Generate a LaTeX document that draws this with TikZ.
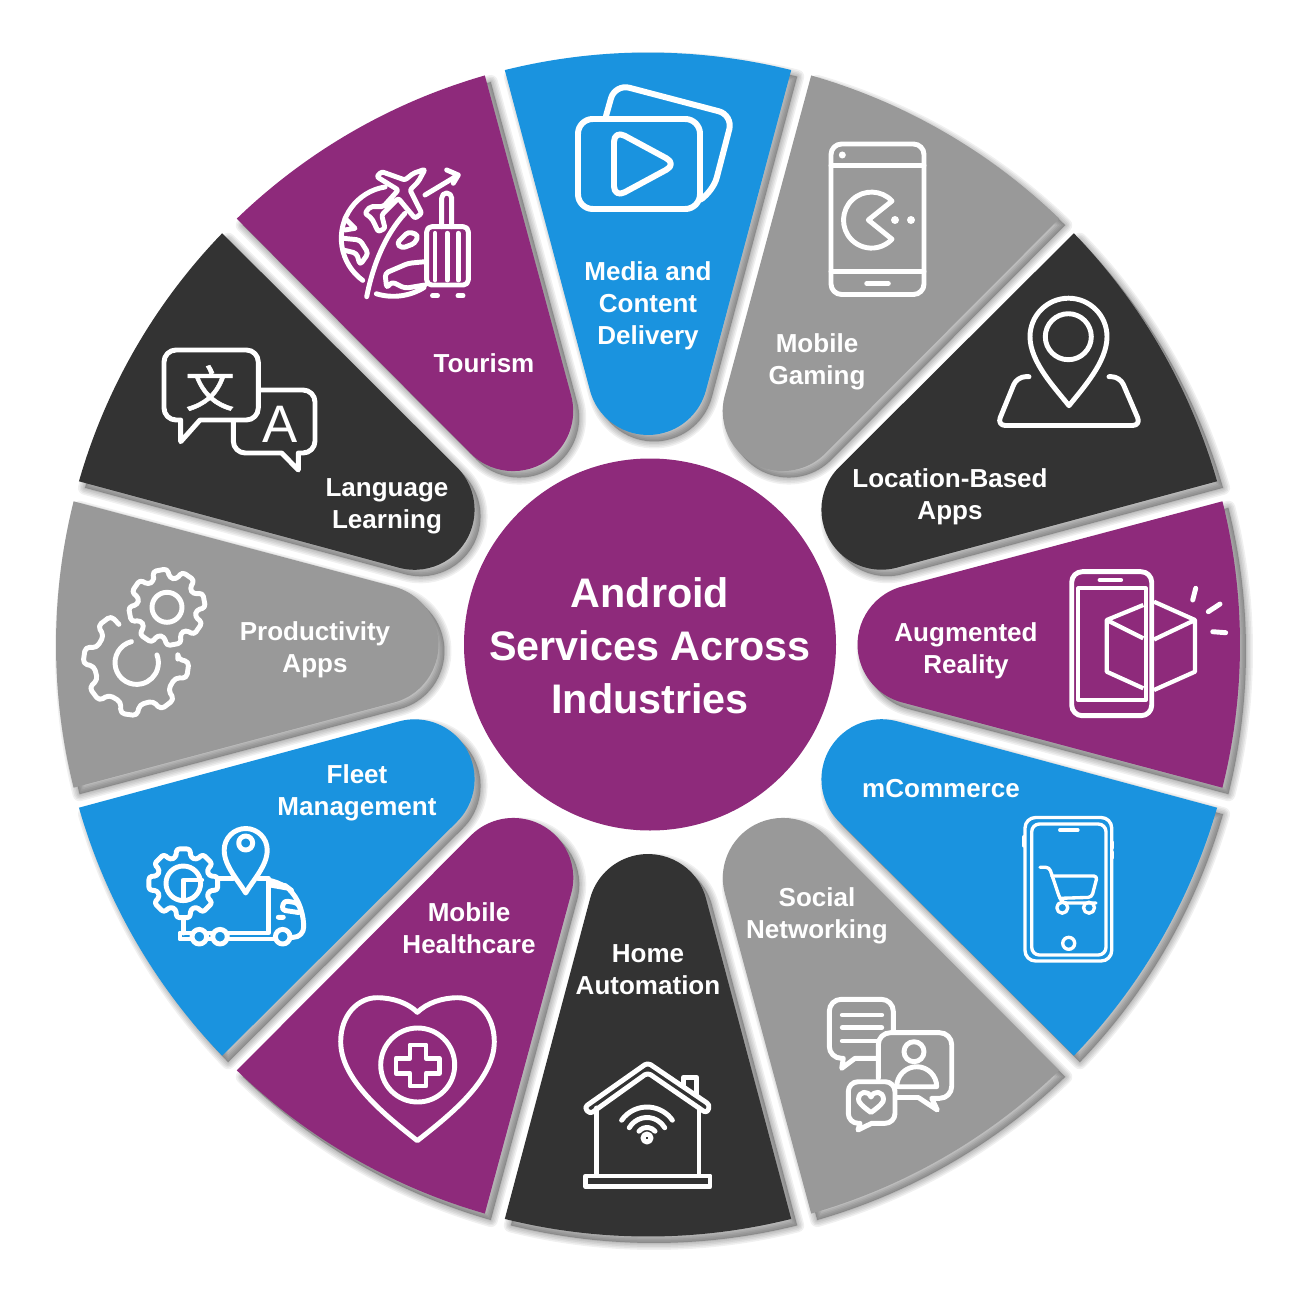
\documentclass[tikz,border=0pt]{standalone}
\usepackage{fontspec}
\setmainfont{Liberation Sans}
\newfontfamily\cjk[FakeBold=1.2]{Noto Sans CJK SC}
\definecolor{svcblue}{HTML}{1A93DF}
\definecolor{svcpurple}{HTML}{8E2A7B}
\definecolor{svcgray}{HTML}{999999}
\definecolor{svcdark}{HTML}{333333}
\newcommand{\wedgeshape}{(-143.2,-574.4) -- (-58,-254) arc[start angle=165,end angle=15,radius=60] -- (143.2,-574.4) arc[start angle=-76,end angle=-104,radius=592] -- cycle}
\tikzset{
  lbl/.style={text=white,align=center,inner sep=0pt,font=\fontsize{7.4}{9.1}\selectfont\bfseries},
  icon/.style={draw=white,line width=1.4pt,line join=round,line cap=round},
  thinicon/.style={icon,line width=0.95pt},
  dot/.style={fill=white}
}
\begin{document}
\begin{tikzpicture}[x=0.01cm,y=-0.01cm]
  \useasboundingbox (0,0) rectangle (1300,1300);

  \foreach \a in {0,30,...,330} {
    \foreach \w in {14,11,8,5,2} {
      \begin{scope}[shift={(654,651)},rotate=-\a]
        \draw[black,fill=black,opacity=0.06,line width=\w*0.2845pt,line join=round] \wedgeshape;
      \end{scope}
    }
  }
  \foreach \a/\c in {0/svcblue,30/svcgray,60/svcdark,90/svcpurple,120/svcblue,150/svcgray,180/svcdark,210/svcpurple,240/svcblue,270/svcgray,300/svcdark,330/svcpurple} {
    \begin{scope}[shift={(648,644.5)},rotate=-\a]
      \fill[\c] \wedgeshape;
    \end{scope}
  }
  \fill[svcpurple] (650,644.5) circle[radius=186];
  \node[lbl,font=\fontsize{11.75}{15.1}\selectfont\bfseries] (hub) at (650,646) {Android\\Services Across\\Industries};

  \node[lbl] (media) at (648,305.5) {Media and\\Content\\Delivery};
  \node[lbl] (gaming) at (817,362) {Mobile\\Gaming};
  \node[lbl] (location) at (950,497) {Location-Based\\Apps};
  \node[lbl] (augmented) at (966,650.5) {Augmented\\Reality};
  \node[lbl] (commerce) at (941,788.5) {mCommerce};
  \node[lbl] (social) at (817,916) {Social\\Networking};
  \node[lbl] (home) at (648,970) {Home\\Automation};
  \node[lbl] (health) at (469,928) {Mobile\\Healthcare};
  \node[lbl] (fleet) at (357,792.5) {Fleet\\Management};
  \node[lbl] (product) at (315,650) {Productivity\\Apps};
  \node[lbl] (language) at (387,506) {Language\\Learning};
  \node[lbl] (tourism) at (484,363) {Tourism};

  % media
  \draw[icon,line width=1.7pt,rounded corners=4.2pt] (578,119) rectangle (700,209);
  \draw[icon,line width=1.7pt,rounded corners=4.2pt] (606,116) -- (615,84) -- (733,115) -- (713,192) -- (703,198);
  \draw[icon,line width=1.7pt,rounded corners=3.4pt] (614,130) -- (614,198) -- (677,164) -- cycle;

  % gaming
  \draw[icon,rounded corners=3pt] (831,144) rectangle (924,294.5);
  \draw[icon] (831,165.7) -- (924,165.7) (831,271.5) -- (924,271.5) (866.7,283.5) -- (888.3,283.5);
  \fill[dot] (842.3,155) circle[radius=3.5] (895,220) circle[radius=4] (911,220) circle[radius=4];
  \draw[icon] (892,201) arc[start angle=-43,end angle=-317,radius=28] -- (868.3,220) -- cycle;

  % location
  \draw[icon] (1069,405.7) .. controls (1055,388) and (1030,362) .. (1030,336.7) arc[start angle=180,end angle=360,radius=38.5] .. controls (1107,362) and (1083,388) .. (1069,405.7) -- cycle;
  \draw[icon] (1068.3,336.7) circle[radius=23];
  \draw[icon,rounded corners=2.4pt] (1029,376.7) -- (1017,376.7) -- (997,425.5) -- (1141,425.5) -- (1120,376.7) -- (1109,376.7);

  % augmented
  \draw[icon,rounded corners=3pt] (1071.7,571.7) rectangle (1151.7,715.7);
  \draw[icon,line width=1.2pt] (1078.3,588.3) rectangle (1145.7,700);
  \draw[icon] (1100,580) -- (1120.7,580);
  \draw[icon,line width=1.2pt,line cap=butt] (1143.3,605) -- (1106.7,620) -- (1106.7,671.7) -- (1143.3,688.3) (1106.7,620) -- (1143.3,638.3);
  \draw[icon,line width=1.2pt,line cap=butt] (1154,601.7) -- (1195,620) -- (1195,671.7) -- (1154,690) (1195,620) -- (1154,639.5);
  \draw[icon] (1195.7,588.3) -- (1192.7,600) (1220,604) -- (1208.3,611.7) (1212.7,631.7) -- (1225.7,632.7);

  % commerce
  \draw[thinicon,rounded corners=3pt] (1025,817.5) rectangle (1111.7,961);
  \draw[thinicon,rounded corners=2.2pt] (1031.7,824) rectangle (1106,955);
  \draw[icon,line width=1.1pt] (1060,830) -- (1077.7,830);
  \draw[thinicon] (1024,836.7) -- (1024,846) (1112.7,842) -- (1112.7,848) (1112.7,852) -- (1112.7,858);
  \draw[thinicon] (1068.7,943.3) circle[radius=6];
  \draw[thinicon,rounded corners=1pt] (1040,867.3) -- (1049.3,867.3) -- (1060,899) -- (1063.3,903) -- (1096,903);
  \draw[thinicon,rounded corners=1pt] (1051.7,876) -- (1097.3,876) -- (1091.7,897.3) -- (1060,898.3);
  \draw[thinicon] (1062.3,907.7) circle[radius=5.5] (1089,907.7) circle[radius=5.5];

  % social
  \draw[icon,rounded corners=3.4pt] (893.3,1030) -- (893.3,999.3) -- (829.3,999.3) -- (829.3,1058.3) [sharp corners] -- (843.3,1058.3) -- (841.7,1068.3) -- (855,1058.3) -- (876.7,1058.3);
  \draw[icon] (842.3,1015) -- (881.7,1015) (842.3,1027.7) -- (881.7,1027.7) (842.3,1041) -- (876,1041);
  \draw[icon,rounded corners=3.4pt] (878.3,1078.3) -- (878.3,1032.7) -- (951.7,1032.7) -- (951.7,1098.3) [sharp corners] -- (931.7,1098.3) -- (937.3,1110) -- (918.3,1097.5) -- (896,1097.5);
  \draw[icon] (914,1051.7) circle[radius=10];
  \draw[icon] (896.7,1086.7) arc[start angle=180,end angle=360,radius=20] -- cycle;
  \draw[icon,rounded corners=2.8pt] (871.7,1123.3) -- (895,1123.3) -- (895,1081.7) -- (848.3,1081.7) -- (848.3,1123.3) [sharp corners] -- (860,1123.3) -- (858,1130) -- cycle;
  \draw[icon] (871,1112.5) .. controls (862,1106) and (858,1102) .. (858.5,1099) .. controls (859,1091) and (868,1090) .. (871,1097) .. controls (874,1090) and (883,1091) .. (883.5,1099) .. controls (884,1102) and (880,1106) .. (871,1112.5) -- cycle;

  % home
  \draw[icon,rounded corners=1pt] (647.7,1062.7) -- (710,1105) -- (706.7,1113.3) -- (647.7,1072.7) -- (590,1114) -- (584.3,1107.3) -- cycle;
  \draw[icon] (596.7,1108) -- (596.7,1175) (699,1108) -- (699,1175);
  \draw[icon] (585.7,1176) rectangle (710,1186.7);
  \draw[icon] (683.3,1085) -- (683.3,1077.3) -- (696.7,1077.3) -- (696.7,1095);
  \draw[icon] (647,1138) circle[radius=4];
  \draw[icon] (647,1138) ++(-145:31) arc[start angle=-145,end angle=-35,radius=31];
  \draw[icon] (647,1138) ++(-150:20.5) arc[start angle=-150,end angle=-30,radius=20.5];
  \draw[icon] (647,1138) ++(-140:10.5) arc[start angle=-140,end angle=-40,radius=10.5];

  % health
  \draw[icon] (417.3,1140.7) .. controls (385,1115) and (340.7,1080) .. (340.7,1041.7) .. controls (340.7,1015) and (358,997.7) .. (377,997.7) .. controls (393,997.7) and (408,1003) .. (417.3,1012.3) .. controls (427,1003) and (442,997.7) .. (458,997.7) .. controls (477,997.7) and (494.3,1015) .. (494.3,1041.7) .. controls (494.3,1080) and (450,1115) .. (417.3,1140.7) -- cycle;
  \draw[icon] (417.7,1065) circle[radius=37];
  \draw[icon] (410,1045) -- (426,1045) -- (426,1058.3) -- (439.3,1058.3) -- (439.3,1073.3) -- (426,1073.3) -- (426,1086) -- (410,1086) -- (410,1073.3) -- (396,1073.3) -- (396,1058.3) -- (410,1058.3) -- cycle;

  % fleet
  \draw[icon,rounded corners=0.8pt,shift={(183.3,883.3)}] (-106:27) \foreach \t in {-90,-45,...,225} { -- (\t-16:27) -- (\t-11:35) -- (\t+11:35) -- (\t+16:27)} -- cycle;
  \draw[icon] (183.3,883.3) circle[radius=17.3];
  \draw[icon] (183.3,899) -- (183.3,880) -- (201.7,880);
  \draw[icon] (183.3,918) -- (183.3,933);
  \draw[icon] (245.7,893) .. controls (238,880) and (224.2,866) .. (224.2,850) arc[start angle=180,end angle=360,radius=21.5] .. controls (267.2,866) and (253,880) .. (245.7,893) -- cycle;
  \draw[icon] (245.7,843) circle[radius=7];
  \draw[icon] (217,878.3) -- (233,878.3) (258,878.3) -- (268.3,878.3) -- (268.3,933) -- (226.5,933);
  \draw[icon] (212.5,933) -- (206.5,933) (192,933) -- (180,933) -- (180,939) -- (192,939) (207,939) -- (212.5,939) (227.5,939) -- (275,939);
  \draw[icon] (199.3,936.7) circle[radius=7.3] (220,936.7) circle[radius=7.3] (282.7,936.7) circle[radius=7.3];
  \draw[icon,rounded corners=3pt] (268.3,880) -- (283,884) -- (293.3,891.7) -- (303.3,913.3) -- (304,937.3) -- (291,937.3);
  \draw[icon,rounded corners=1pt] (284,900.7) -- (298,903) -- (301.7,913) -- (281.7,910) -- cycle;
  \draw[icon] (270,885) -- (287,888) (278.3,917.3) -- (283.3,917.3);

  % productivity
  \draw[icon,rounded corners=1pt,shift={(167,607.3)}] (-116.6:29.5) \foreach \t in {-100.6,-55.6,...,214.4} { -- (\t-16:29.5) -- (\t-11:38.5) -- (\t+11:38.5) -- (\t+16:29.5)} -- cycle;
  \draw[icon] (167,607.3) circle[radius=15];
  \draw[icon,rounded corners=1.2pt,shift={(136,662.7)}] (-5:42) \foreach \t in {8,53,...,233} { -- (\t-13:42) -- (\t-9:53) -- (\t+9:53) -- (\t+13:42)};
  \draw[icon] (136.7,662.7) ++(-104:21.7) arc[start angle=-104,end angle=-381,radius=21.7];

  % language
  \draw[icon,rounded corners=3.4pt] (200,420) -- (258.3,420) -- (258.3,350) -- (164,350) -- (164,420) [sharp corners] -- (180.7,420) -- (180.7,441.7) -- cycle;
  \node[text=white,inner sep=0pt,font=\fontsize{14}{15}\selectfont\cjk] (wen) at (210,388) {文};
  \draw[icon,rounded corners=3.4pt] (261.7,390) -- (315,390) -- (315,453) [sharp corners] -- (298.3,453) -- (298.3,470) -- (281.7,453) [rounded corners=3.4pt] -- (233.3,453) -- (233.3,421.7);
  \node[text=white,inner sep=0pt,font=\fontsize{15}{16}\selectfont] (latin) at (280,424) {A};

  % tourism
  \draw[icon] (393.3,238.3) ++(-99:52) arc[start angle=-99,end angle=-234,radius=52];
  \draw[icon] (393.3,238.3) ++(107:58) arc[start angle=107,end angle=58,radius=58];
  \draw[icon] (405,213.3) .. controls (385,235) and (373,265) .. (366.7,296.7);
  \draw[icon,rounded corners=0.6pt] (425,169.3) -- (418.3,181.7) -- (410,190) -- (421.7,213.3) -- (415,218.3) -- (398.3,198.3) -- (381.7,215) -- (385,228.3) -- (378.3,231.7) -- (371.7,218.3) -- (365,213.3) -- (370,206.7) -- (383.3,206.7) -- (398.3,190) -- (376.7,176.7) -- (381.7,171.7) -- (405,180) -- (413.3,173.3) -- cycle;
  \draw[icon] (425,195) -- (458.3,175) (446.7,170) -- (458.3,175) -- (453.3,183.3);
  \draw[icon,rounded corners=1.4pt] (426.7,226.7) rectangle (468.3,285);
  \draw[icon] (441.7,226.7) -- (441.7,198) arc[start angle=180,end angle=360,radius=5] -- (451.7,226.7);
  \draw[icon] (435,233.3) -- (435,280) (447.3,233.3) -- (447.3,280) (458.3,233.3) -- (458.3,280);
  \draw[icon] (432.5,295.7) -- (437.5,295.7) (458,295.7) -- (463,295.7);
  \draw[icon,rounded corners=1pt] (396.7,243.3) -- (408.3,231.7) -- (418.3,235) -- (415,243.3) -- (401.7,248.3) -- cycle;
  \draw[icon,rounded corners=1pt] (425,261.7) -- (408.3,263.3) -- (396.7,268.3) -- (385,273.3) -- (386.7,288.3) -- (391.7,281.7) -- (405,288.3) -- (425,285);
  \draw[icon] (345,218.3) -- (355,228.3) -- (345,230);
  \draw[icon,rounded corners=1pt] (343.3,238.3) -- (360,240) -- (368.3,253.3) -- (360,265) -- (356.7,253.3) -- (343.3,250);
\end{tikzpicture}
\end{document}
